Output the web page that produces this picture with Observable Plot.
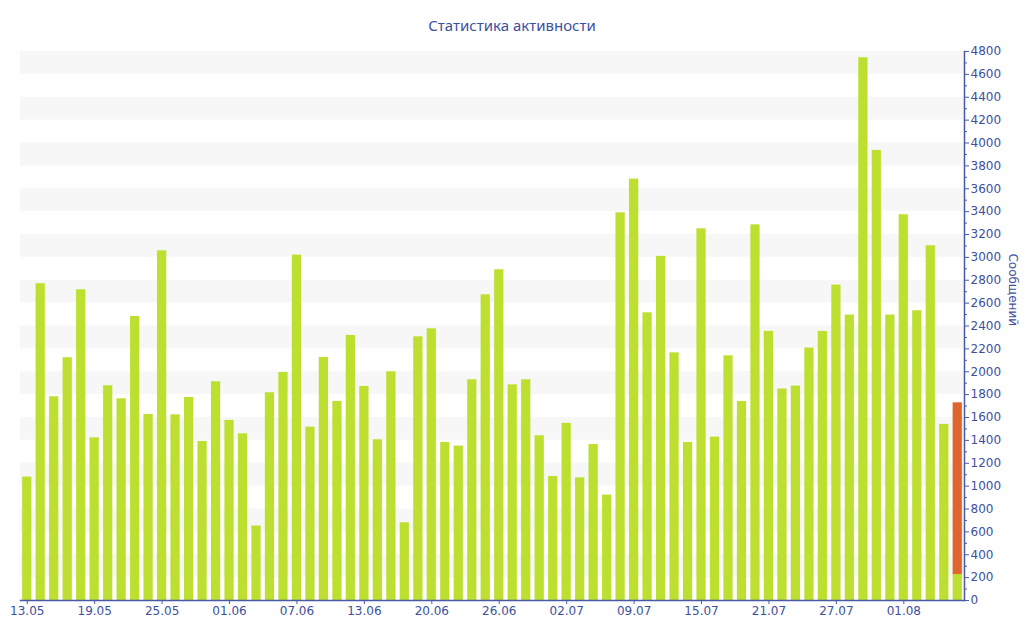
<!DOCTYPE html>
<html>
<head>
<meta charset="utf-8">
<script src="https://cdn.jsdelivr.net/npm/d3@7"></script>
<script src="https://cdn.jsdelivr.net/npm/@observablehq/plot@0.6"></script>
<style>
  html, body { margin: 0; padding: 0; background: #fff; }
  #title { height: 40px; box-sizing: border-box; padding-top: 15px; line-height: 20px;
           text-align: center; font: 15px "Noto Sans", sans-serif; color: #3d4f9e; }
</style>
</head>
<body>
<div id="title">Статистика активности</div>
<div id="chart"></div>
<script>
// Messages per day (green); last day split: counted part (green) + today's part (orange)
const messages = [
  1078, 2769, 1781, 2122, 2716, 1422, 1877, 1763, 2483, 1626,
  3057, 1623, 1775, 1390, 1912, 1574, 1457, 650, 1816, 1993,
  3019, 1515, 2125, 1740, 2317, 1871, 1405, 1999, 679, 2305,
  2375, 1381, 1349, 1929, 2672, 2891, 1885, 1929, 1440, 1084,
  1548, 1072, 1364, 921, 3389, 3684, 2515, 3008, 2165, 1381,
  3249, 1428, 2139, 1740, 3284, 2352, 1848, 1874, 2206, 2352,
  2757, 2495, 4745, 3934, 2495, 3372, 2533, 3101, 1539, 228
];
const todayExtra = [1500]; // orange segment on the last bar
const tickLabels = ["13.05","19.05","25.05","01.06","07.06","13.06","20.06","26.06",
                    "02.07","09.07","15.07","21.07","27.07","01.08"];
const tickEvery = 5; // one label per five bars
const seriesNames = ["Сообщения", "Сегодня"];
const seriesColors = ["#bde030", "#e0642e"];
const yTicks = d3.range(0, 4801, 200);
const yMinor = d3.range(100, 4800, 200);
const stripes = d3.range(200, 4800, 400);

const days = d3.range(messages.length);
const rows = [];
messages.forEach((v, i) => rows.push({day: i, series: seriesNames[0], value: v}));
todayExtra.forEach((v, k) => rows.push({day: messages.length - todayExtra.length + k, series: seriesNames[1], value: v}));
const tickIdx = tickLabels.map((_, k) => k * tickEvery);

const axisColor = "#4a5aa6";
const textColor = "#3d4f9e";

const chart = Plot.plot({
  width: 1024,
  height: 600,
  marginTop: 11,
  marginBottom: 40,
  marginLeft: 20,
  marginRight: 60,
  style: {fontFamily: "DejaVu Sans, sans-serif", fontSize: "12px", color: textColor, background: "#fff"},
  x: {type: "band", domain: days, paddingInner: 0.25, paddingOuter: 0.125},
  y: {domain: [0, 4800]},
  color: {domain: seriesNames, range: seriesColors},
  marks: [
    Plot.rect(stripes, {y1: d => d, y2: d => d + 200, fill: "#f7f7f7"}),
    Plot.barY(rows, {x: "day", y: "value", fill: "series", stroke: "series", strokeOpacity: 0.15, insetLeft: 0.5, insetRight: 0.5}),
    Plot.frame({anchor: "right", stroke: axisColor, strokeWidth: 1.5}),
    Plot.frame({anchor: "bottom", stroke: axisColor, strokeWidth: 1.5}),
    Plot.axisY({anchor: "right", ticks: yTicks, tickSize: 4, tickPadding: 2, tickFormat: d => String(d), label: null, stroke: axisColor, fill: textColor, fontSize: 12}),
    Plot.axisY({anchor: "right", ticks: yMinor, tickSize: 2, tickFormat: () => "", label: null, stroke: axisColor}),
    Plot.axisX({ticks: tickIdx, tickFormat: i => tickLabels[i / tickEvery], tickSize: 4, tickPadding: 2, label: null, stroke: axisColor, fill: textColor, fontSize: 12}),
    Plot.text(["Сообщений"], {frameAnchor: "right", rotate: 90, dx: 48, fill: textColor, fontSize: 12})
  ]
});
document.getElementById("chart").appendChild(chart);
</script>
</body>
</html>
